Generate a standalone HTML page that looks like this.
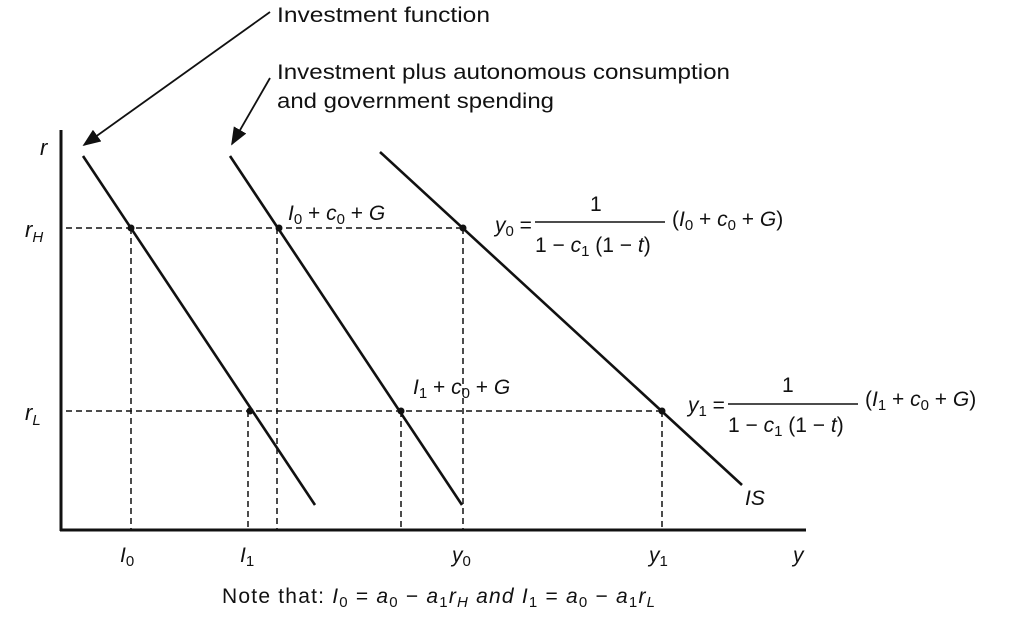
<!DOCTYPE html>
<html><head><meta charset="utf-8"><style>
body{margin:0;background:#fff}
svg{display:block}
text{font-family:"Liberation Sans",sans-serif;fill:#111}
.it{font-style:italic}
.up{font-style:normal}
</style></head><body>
<svg width="1011" height="620" viewBox="0 0 1011 620">
<defs><marker id="ah" markerWidth="10" markerHeight="8" refX="9" refY="4" orient="auto"><path d="M0,0 L10,4 L0,8 z" fill="#111"/></marker></defs>
<g stroke="#111" stroke-width="3" fill="none">
<line x1="61" y1="130" x2="61" y2="531"/>
<line x1="60" y1="530" x2="806" y2="530"/>
</g>
<g stroke="#111" stroke-width="1.5" stroke-dasharray="6,4" fill="none">
<line x1="66" y1="228" x2="463" y2="228"/>
<line x1="66" y1="411" x2="662" y2="411"/>
<line x1="131" y1="228" x2="131" y2="530"/>
<line x1="277" y1="228" x2="277" y2="530"/>
<line x1="463" y1="228" x2="463" y2="530"/>
<line x1="248" y1="411" x2="248" y2="530"/>
<line x1="401" y1="411" x2="401" y2="530"/>
<line x1="662" y1="411" x2="662" y2="530"/>
</g>
<g stroke="#111" stroke-width="2.6" fill="none">
<line x1="83" y1="156" x2="315" y2="505"/>
<line x1="230" y1="156" x2="462" y2="505"/>
<line x1="380" y1="152" x2="742" y2="485"/>
</g>
<g fill="#111">
<circle cx="131" cy="228" r="3.5"/><circle cx="279" cy="228" r="3.5"/><circle cx="463" cy="228" r="3.5"/>
<circle cx="250" cy="411" r="3.5"/><circle cx="401" cy="411" r="3.5"/><circle cx="662" cy="411" r="3.5"/>
</g>
<g stroke="#111" stroke-width="1.8">
<line x1="270" y1="12" x2="84" y2="145" marker-end="url(#ah)"/>
<line x1="270" y1="78" x2="232" y2="144" marker-end="url(#ah)"/>
</g>
<g font-size="21">
<text x="277" y="22" textLength="213" lengthAdjust="spacingAndGlyphs">Investment function</text>
<text x="277" y="79" textLength="453" lengthAdjust="spacingAndGlyphs">Investment plus autonomous consumption</text>
<text x="277" y="108" textLength="277" lengthAdjust="spacingAndGlyphs">and government spending</text>
<text x="40" y="155" class="it" font-size="22">r</text>
<text x="25" y="237" class="it" font-size="22">r<tspan font-size="15" dy="5">H</tspan></text>
<text x="25" y="420" class="it" font-size="22">r<tspan font-size="15" dy="5">L</tspan></text>
<text x="120" y="562" class="it">I<tspan class="up" font-size="15" dy="4">0</tspan></text>
<text x="240" y="562" class="it">I<tspan class="up" font-size="15" dy="4">1</tspan></text>
<text x="452" y="562" class="it">y<tspan class="up" font-size="15" dy="4">0</tspan></text>
<text x="649" y="562" class="it">y<tspan class="up" font-size="15" dy="4">1</tspan></text>
<text x="793" y="562" class="it">y</text>
<text x="288" y="220" class="it">I<tspan class="up" font-size="15" dy="4">0</tspan><tspan dy="-4" class="up"> + </tspan>c<tspan class="up" font-size="15" dy="4">0</tspan><tspan dy="-4" class="up"> + </tspan>G</text>
<text x="413" y="394" class="it">I<tspan class="up" font-size="15" dy="4">1</tspan><tspan dy="-4" class="up"> + </tspan>c<tspan class="up" font-size="15" dy="4">0</tspan><tspan dy="-4" class="up"> + </tspan>G</text>
<text x="495" y="232" class="it">y<tspan class="up" font-size="15" dy="4">0</tspan><tspan dy="-4" class="up"> =</tspan></text>
<text x="590" y="211">1</text>
<line x1="535" y1="222" x2="665" y2="222" stroke="#111" stroke-width="1.5"/>
<text x="535" y="252" class="it"><tspan class="up">1 − </tspan>c<tspan class="up" font-size="15" dy="4">1</tspan><tspan dy="-4" class="up"> (1 − </tspan>t<tspan class="up">)</tspan></text>
<text x="672" y="226" class="it"><tspan class="up">(</tspan>I<tspan class="up" font-size="15" dy="4">0</tspan><tspan dy="-4" class="up"> + </tspan>c<tspan class="up" font-size="15" dy="4">0</tspan><tspan dy="-4" class="up"> + </tspan>G<tspan class="up">)</tspan></text>
<text x="688" y="412" class="it">y<tspan class="up" font-size="15" dy="4">1</tspan><tspan dy="-4" class="up"> =</tspan></text>
<text x="782" y="392">1</text>
<line x1="728" y1="404" x2="858" y2="404" stroke="#111" stroke-width="1.5"/>
<text x="728" y="432" class="it"><tspan class="up">1 − </tspan>c<tspan class="up" font-size="15" dy="4">1</tspan><tspan dy="-4" class="up"> (1 − </tspan>t<tspan class="up">)</tspan></text>
<text x="865" y="406" class="it"><tspan class="up">(</tspan>I<tspan class="up" font-size="15" dy="4">1</tspan><tspan dy="-4" class="up"> + </tspan>c<tspan class="up" font-size="15" dy="4">0</tspan><tspan dy="-4" class="up"> + </tspan>G<tspan class="up">)</tspan></text>
<text x="745" y="505" class="it">IS</text>
<text x="222" y="603" textLength="433" lengthAdjust="spacing">Note that: <tspan class="it">I</tspan><tspan font-size="15" dy="4">0</tspan><tspan dy="-4"> = </tspan><tspan class="it">a</tspan><tspan font-size="15" dy="4">0</tspan><tspan dy="-4"> − </tspan><tspan class="it">a</tspan><tspan font-size="15" dy="4">1</tspan><tspan class="it" dy="-4">r</tspan><tspan font-size="15" dy="4" class="it">H</tspan><tspan dy="-4" class="it"> and </tspan><tspan class="it">I</tspan><tspan font-size="15" dy="4">1</tspan><tspan dy="-4"> = </tspan><tspan class="it">a</tspan><tspan font-size="15" dy="4">0</tspan><tspan dy="-4"> − </tspan><tspan class="it">a</tspan><tspan font-size="15" dy="4">1</tspan><tspan class="it" dy="-4">r</tspan><tspan font-size="15" dy="4" class="it">L</tspan></text>
</g>
</svg>
</body></html>
